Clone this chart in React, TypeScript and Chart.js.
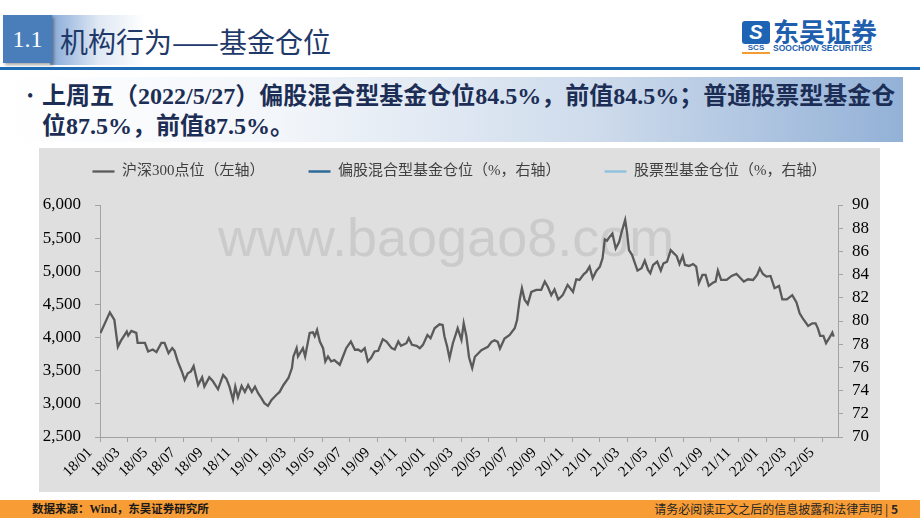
import React, { useEffect, useRef } from "react";
import { Chart, registerables } from "chart.js";

Chart.register(...registerables);

const SERIF = '"Liberation Serif", "Times New Roman", "Noto Sans CJK SC", serif';
const CJK = '"Noto Sans CJK SC", sans-serif';

const seriesNames = [
  "沪深300点位（左轴）",
  "偏股混合型基金仓位（%，右轴）",
  "股票型基金仓位（%，右轴）",
];

const xTickLabels = [
  "18/01", "18/03", "18/05", "18/07", "18/09", "18/11",
  "19/01", "19/03", "19/05", "19/07", "19/09", "19/11",
  "20/01", "20/03", "20/05", "20/07", "20/09", "20/11",
  "21/01", "21/03", "21/05", "21/07", "21/09", "21/11",
  "22/01", "22/03", "22/05",
];

const dates = [
  "2018-01-02", "2018-01-23", "2018-02-02", "2018-02-09", "2018-02-15", "2018-02-27",
  "2018-03-02", "2018-03-09", "2018-03-20", "2018-03-23", "2018-04-08", "2018-04-15",
  "2018-04-25", "2018-05-03", "2018-05-14", "2018-05-21", "2018-05-30", "2018-06-07",
  "2018-06-12", "2018-06-19", "2018-06-28", "2018-07-04", "2018-07-11", "2018-07-18",
  "2018-07-24", "2018-08-03", "2018-08-12", "2018-08-17", "2018-08-28", "2018-09-05",
  "2018-09-16", "2018-09-27", "2018-10-04", "2018-10-11", "2018-10-19", "2018-10-24",
  "2018-10-30", "2018-11-07", "2018-11-14", "2018-11-21", "2018-11-29", "2018-12-06",
  "2018-12-13", "2018-12-20", "2018-12-27", "2019-01-04", "2019-01-12", "2019-01-22",
  "2019-01-30", "2019-02-07", "2019-02-17", "2019-02-24", "2019-02-27", "2019-03-06",
  "2019-03-09", "2019-03-20", "2019-03-25", "2019-04-04", "2019-04-11", "2019-04-15",
  "2019-04-20", "2019-04-26", "2019-05-03", "2019-05-08", "2019-05-14", "2019-05-21",
  "2019-05-28", "2019-06-09", "2019-06-16", "2019-06-23", "2019-07-03", "2019-07-12",
  "2019-07-19", "2019-07-26", "2019-08-03", "2019-08-10", "2019-08-17", "2019-08-25",
  "2019-09-02", "2019-09-12", "2019-09-20", "2019-10-01", "2019-10-08", "2019-10-16",
  "2019-10-22", "2019-11-03", "2019-11-08", "2019-11-15", "2019-11-25", "2019-12-02",
  "2019-12-09", "2019-12-19", "2019-12-26", "2020-01-04", "2020-01-15", "2020-01-22",
  "2020-01-26", "2020-02-01", "2020-02-06", "2020-02-13", "2020-02-20", "2020-02-23",
  "2020-03-02", "2020-03-07", "2020-03-13", "2020-03-19", "2020-03-26", "2020-04-01",
  "2020-04-08", "2020-04-15", "2020-04-22", "2020-04-29", "2020-05-07", "2020-05-14",
  "2020-05-21", "2020-05-26", "2020-06-05", "2020-06-16", "2020-06-27", "2020-07-02",
  "2020-07-08", "2020-07-13", "2020-07-19", "2020-07-26", "2020-08-03", "2020-08-14",
  "2020-08-25", "2020-09-02", "2020-09-09", "2020-09-16", "2020-09-23", "2020-10-01",
  "2020-10-11", "2020-10-22", "2020-11-03", "2020-11-10", "2020-11-17", "2020-11-26",
  "2020-12-02", "2020-12-09", "2020-12-16", "2020-12-24", "2021-01-01", "2021-01-07",
  "2021-01-12", "2021-01-17", "2021-01-21", "2021-01-29", "2021-02-05", "2021-02-12",
  "2021-02-17", "2021-02-24", "2021-02-28", "2021-03-04", "2021-03-11", "2021-03-16",
  "2021-03-23", "2021-04-01", "2021-04-08", "2021-04-15", "2021-04-20", "2021-04-26",
  "2021-05-05", "2021-05-13", "2021-05-19", "2021-05-27", "2021-06-04", "2021-06-11",
  "2021-06-17", "2021-06-23", "2021-06-30", "2021-07-05", "2021-07-14", "2021-07-23",
  "2021-07-30", "2021-08-05", "2021-08-13", "2021-08-20", "2021-08-27", "2021-09-06",
  "2021-09-11", "2021-09-16", "2021-09-23", "2021-10-05", "2021-10-16", "2021-10-27",
  "2021-11-03", "2021-11-12", "2021-11-21", "2021-12-02", "2021-12-11", "2021-12-17",
  "2021-12-24", "2022-01-01", "2022-01-10", "2022-01-19", "2022-01-29", "2022-02-05",
  "2022-02-14", "2022-02-25", "2022-03-06", "2022-03-13", "2022-03-20", "2022-04-01",
  "2022-04-10", "2022-04-17", "2022-04-22", "2022-04-27", "2022-05-04", "2022-05-10",
  "2022-05-17", "2022-05-24", "2022-05-27",
];

const csi300 = [
  4070, 4380, 4265, 3860, 3950, 4090,
  4030, 4100, 4070, 3920, 3920, 3790,
  3820, 3780, 3920, 3920, 3765, 3840,
  3800, 3640, 3485, 3360, 3460, 3490,
  3570, 3285, 3400, 3260, 3400, 3340,
  3220, 3435, 3380, 3260, 3060, 3260,
  3100, 3270, 3180, 3285, 3180, 3260,
  3160, 3090, 3010, 2970, 3060, 3130,
  3180, 3285, 3390, 3540, 3715, 3840,
  3715, 3840, 3715, 4070, 4080, 4020,
  4115, 3940, 3840, 3640, 3715, 3640,
  3660, 3590, 3715, 3840, 3940, 3815,
  3820, 3790, 3840, 3640, 3690, 3790,
  3800, 3975, 3940, 3840, 3820, 3940,
  3875, 3915, 3990, 3890, 3875, 3840,
  3890, 4040, 3990, 4140, 4200, 4190,
  4020, 3865, 3690, 3915, 4070, 4140,
  3965, 4215, 4020, 3700, 3540, 3710,
  3760, 3810, 3835, 3860, 3935, 3960,
  3935, 3835, 3985, 4040, 4140, 4260,
  4570, 4745, 4570, 4505, 4690, 4720,
  4720, 4845, 4760, 4640, 4725, 4575,
  4640, 4795, 4690, 4880, 4870, 4955,
  4990, 5070, 4895, 5005, 5070, 5195,
  5480, 5460, 5505, 5570, 5345, 5445,
  5595, 5775, 5570, 5320, 5245, 5145,
  5010, 5045, 5160, 5020, 4970, 5095,
  5145, 5010, 5120, 5145, 5320, 5270,
  5230, 5110, 5230, 5095, 5080, 5110,
  5070, 4820, 4945, 4945, 4780, 4830,
  4845, 5010, 4870, 4870, 4930, 4960,
  4910, 4845, 4880, 4870, 4945, 5045,
  4960, 4920, 4930, 4745, 4780, 4575,
  4575, 4640, 4530, 4365, 4290, 4175,
  4215, 4215, 4140, 4025, 4025, 3915,
  3990, 4075, 4015,
];

// The two fund-position series appear only in the legend of the reference picture.
const mixedFundDates: string[] = [];
const mixedFundPosition: number[] = [];
const stockFundDates: string[] = [];
const stockFundPosition: number[] = [];

function monthIndex(d: string): number {
  const [y, m, day] = d.split("-").map(Number);
  const dim = new Date(y, m, 0).getDate();
  return (y - 2018) * 12 + (m - 1) + (day - 1) / dim;
}

const legendSpacing = {
  id: "legendSpacing",
  beforeInit(chart: any) {
    const legend = chart.legend;
    if (!legend) return;
    const origFit = legend.fit;
    legend.fit = function () {
      origFit.call(this);
      this.height += 16;
    };
  },
};

function PositionChart() {
  const ref = useRef<HTMLCanvasElement>(null);
  useEffect(() => {
    if (!ref.current) return;
    const axisColor = "#a3a3a3";
    const chart = new Chart(ref.current, {
      type: "line",
      data: {
        datasets: [
          {
            label: seriesNames[0],
            data: dates.map((d, i) => ({ x: monthIndex(d), y: csi300[i] })),
            borderColor: "#5a5a5a",
            backgroundColor: "#5a5a5a",
            borderWidth: 2.3,
            pointRadius: 0,
            tension: 0,
            yAxisID: "y",
          },
          {
            label: seriesNames[1],
            data: mixedFundDates.map((d, i) => ({ x: monthIndex(d), y: mixedFundPosition[i] })),
            borderColor: "#2e6b9a",
            backgroundColor: "#2e6b9a",
            borderWidth: 2.5,
            pointRadius: 0,
            yAxisID: "y1",
          },
          {
            label: seriesNames[2],
            data: stockFundDates.map((d, i) => ({ x: monthIndex(d), y: stockFundPosition[i] })),
            borderColor: "#93c3dc",
            backgroundColor: "#93c3dc",
            borderWidth: 2.5,
            pointRadius: 0,
            yAxisID: "y1",
          },
        ],
      },
      options: {
        responsive: false,
        animation: false,
        layout: { padding: { top: -28, left: 0, right: 0, bottom: 0 } },
        plugins: {
          tooltip: { enabled: false },
          legend: {
            position: "top",
            labels: {
              usePointStyle: true,
              pointStyle: "line",
              pointStyleWidth: 22,
              color: "#404040",
              font: { family: SERIF, size: 15 },
              padding: 44,
            },
          },
        },
        scales: {
          x: {
            type: "linear",
            min: 0,
            max: 53.15,
            afterBuildTicks: (s: any) => {
              s.ticks = xTickLabels.map((_, i) => ({ value: i * 2 }));
            },
            afterFit: (s: any) => {
              s.height = 55;
            },
            ticks: {
              autoSkip: false,
              maxRotation: 45,
              minRotation: 45,
              labelOffset: -10,
              padding: 2,
              color: "#000",
              font: { family: SERIF, size: 15 },
              callback: (v: any) => xTickLabels[Math.round(Number(v) / 2)] ?? "",
            },
            grid: { drawOnChartArea: false, tickLength: 5, color: axisColor },
            border: { color: axisColor, width: 1 },
          },
          y: {
            position: "left",
            min: 2500,
            max: 6000,
            afterFit: (s: any) => {
              s.width = 61;
            },
            ticks: {
              stepSize: 500,
              autoSkip: false,
              padding: 14,
              color: "#000",
              font: { family: SERIF, size: 17 },
              callback: (v: any) => Number(v).toLocaleString("en-US"),
            },
            grid: { drawOnChartArea: false, tickLength: 5, color: axisColor },
            border: { color: axisColor, width: 1 },
          },
          y1: {
            position: "right",
            min: 70,
            max: 90,
            afterFit: (s: any) => {
              s.width = 42;
            },
            ticks: {
              stepSize: 2,
              autoSkip: false,
              padding: 9,
              color: "#000",
              font: { family: SERIF, size: 17 },
            },
            grid: { drawOnChartArea: false, tickLength: 5, color: axisColor },
            border: { color: axisColor, width: 1 },
          },
        },
      },
      plugins: [legendSpacing],
    } as any);
    return () => chart.destroy();
  }, []);
  return <canvas ref={ref} width={841} height={344} style={{ position: "absolute", left: 0, top: 0 }} />;
}

export default function App() {
  return (
    <div
      style={{
        position: "absolute",
        left: 0,
        top: 0,
        width: 920,
        height: 518,
        background: "#ffffff",
        overflow: "hidden",
        fontFamily: SERIF,
      }}
    >
      {/* header */}
      <div
        style={{
          position: "absolute",
          left: 50,
          top: 15,
          width: 95,
          height: 50,
          background: "linear-gradient(to right, #86a9d8 0%, rgba(200,215,235,0.6) 50%, rgba(255,255,255,0) 100%)",
        }}
      />
      <div
        style={{
          position: "absolute",
          left: 3,
          top: 15,
          width: 49,
          height: 48,
          background: "#4a7ebb",
          boxShadow: "2px 2px 3px rgba(0,0,0,0.35)",
          color: "#ffffff",
          fontFamily: SERIF,
          fontSize: 24,
          lineHeight: "48px",
          textAlign: "center",
        }}
      >
        1.1
      </div>
      <div
        style={{
          position: "absolute",
          left: 60,
          top: 26,
          fontFamily: CJK,
          fontSize: 28,
          lineHeight: "30px",
          color: "#1f3a6a",
          whiteSpace: "nowrap",
        }}
      >
        机构行为——基金仓位
      </div>
      <div style={{ position: "absolute", left: 0, top: 67, width: 920, height: 3, background: "#1c6bb4" }} />

      {/* logo */}
      <div
        style={{
          position: "absolute",
          left: 742,
          top: 21,
          width: 28,
          height: 23,
          background: "#1e64b4",
          borderRadius: 3,
          color: "#fff",
          fontFamily: '"Liberation Sans", sans-serif',
          fontWeight: 700,
          fontStyle: "italic",
          fontSize: 20,
          lineHeight: "23px",
          textAlign: "center",
        }}
      >
        S
      </div>
      <div
        style={{
          position: "absolute",
          left: 742,
          top: 44,
          width: 28,
          fontFamily: '"Liberation Sans", sans-serif',
          fontWeight: 700,
          fontSize: 8,
          lineHeight: "8px",
          color: "#1e64b4",
          textAlign: "center",
        }}
      >
        SCS
      </div>
      <div style={{ position: "absolute", left: 742, top: 52, width: 28, height: 2, background: "#f39c33" }} />
      <div
        style={{
          position: "absolute",
          left: 773,
          top: 17,
          fontFamily: CJK,
          fontWeight: 700,
          fontSize: 26,
          lineHeight: "28px",
          color: "#1e5fae",
          whiteSpace: "nowrap",
        }}
      >
        东吴证券
      </div>
      <div
        style={{
          position: "absolute",
          left: 773,
          top: 44,
          fontFamily: '"Liberation Sans", sans-serif',
          fontWeight: 700,
          fontSize: 8.5,
          lineHeight: "9px",
          color: "#1e5fae",
          whiteSpace: "nowrap",
        }}
      >
        SOOCHOW SECURITIES
      </div>

      {/* bullet box */}
      <div
        style={{
          position: "absolute",
          left: 8,
          top: 77,
          width: 895,
          height: 65,
          background: "linear-gradient(to right, #ffffff 0%, #f3f6fa 30%, #cfdcec 65%, #93b1d7 100%)",
        }}
      />
      <div
        style={{
          position: "absolute",
          left: 27,
          top: 81,
          fontSize: 18,
          lineHeight: "30px",
          color: "#1c2e55",
        }}
      >
        •
      </div>
      <div
        style={{
          position: "absolute",
          left: 42,
          top: 81,
          fontFamily: SERIF,
          fontWeight: 700,
          fontSize: 24,
          lineHeight: "30px",
          color: "#1c2e55",
          whiteSpace: "nowrap",
        }}
      >
        上周五（2022/5/27）偏股混合型基金仓位84.5%，前值84.5%；普通股票型基金仓
        <br />
        位87.5%，前值87.5%。
      </div>

      {/* chart box */}
      <div
        style={{
          position: "absolute",
          left: 39,
          top: 148,
          width: 841,
          height: 344,
          background: "#dfdfdf",
        }}
      >
        <div
          style={{
            position: "absolute",
            left: 179,
            top: 62,
            fontFamily: '"Liberation Sans", Arial, sans-serif',
            fontSize: 54,
            lineHeight: "54px",
            color: "#cbcbcb",
            whiteSpace: "nowrap",
          }}
        >
          www.baogao8.com
        </div>
        <PositionChart />
      </div>

      {/* footer */}
      <div style={{ position: "absolute", left: 0, top: 500, width: 920, height: 18, background: "#f89c35" }} />
      <div
        style={{
          position: "absolute",
          left: 32,
          top: 501,
          fontFamily: SERIF,
          fontWeight: 700,
          fontSize: 11.5,
          lineHeight: "16px",
          color: "#1a1a1a",
          whiteSpace: "nowrap",
        }}
      >
        数据来源：Wind，东吴证券研究所
      </div>
      <div
        style={{
          position: "absolute",
          right: 22,
          top: 501,
          fontFamily: CJK,
          fontSize: 12,
          lineHeight: "16px",
          color: "#262626",
          whiteSpace: "nowrap",
        }}
      >
        请务必阅读正文之后的信息披露和法律声明 | <b>5</b>
      </div>
    </div>
  );
}
